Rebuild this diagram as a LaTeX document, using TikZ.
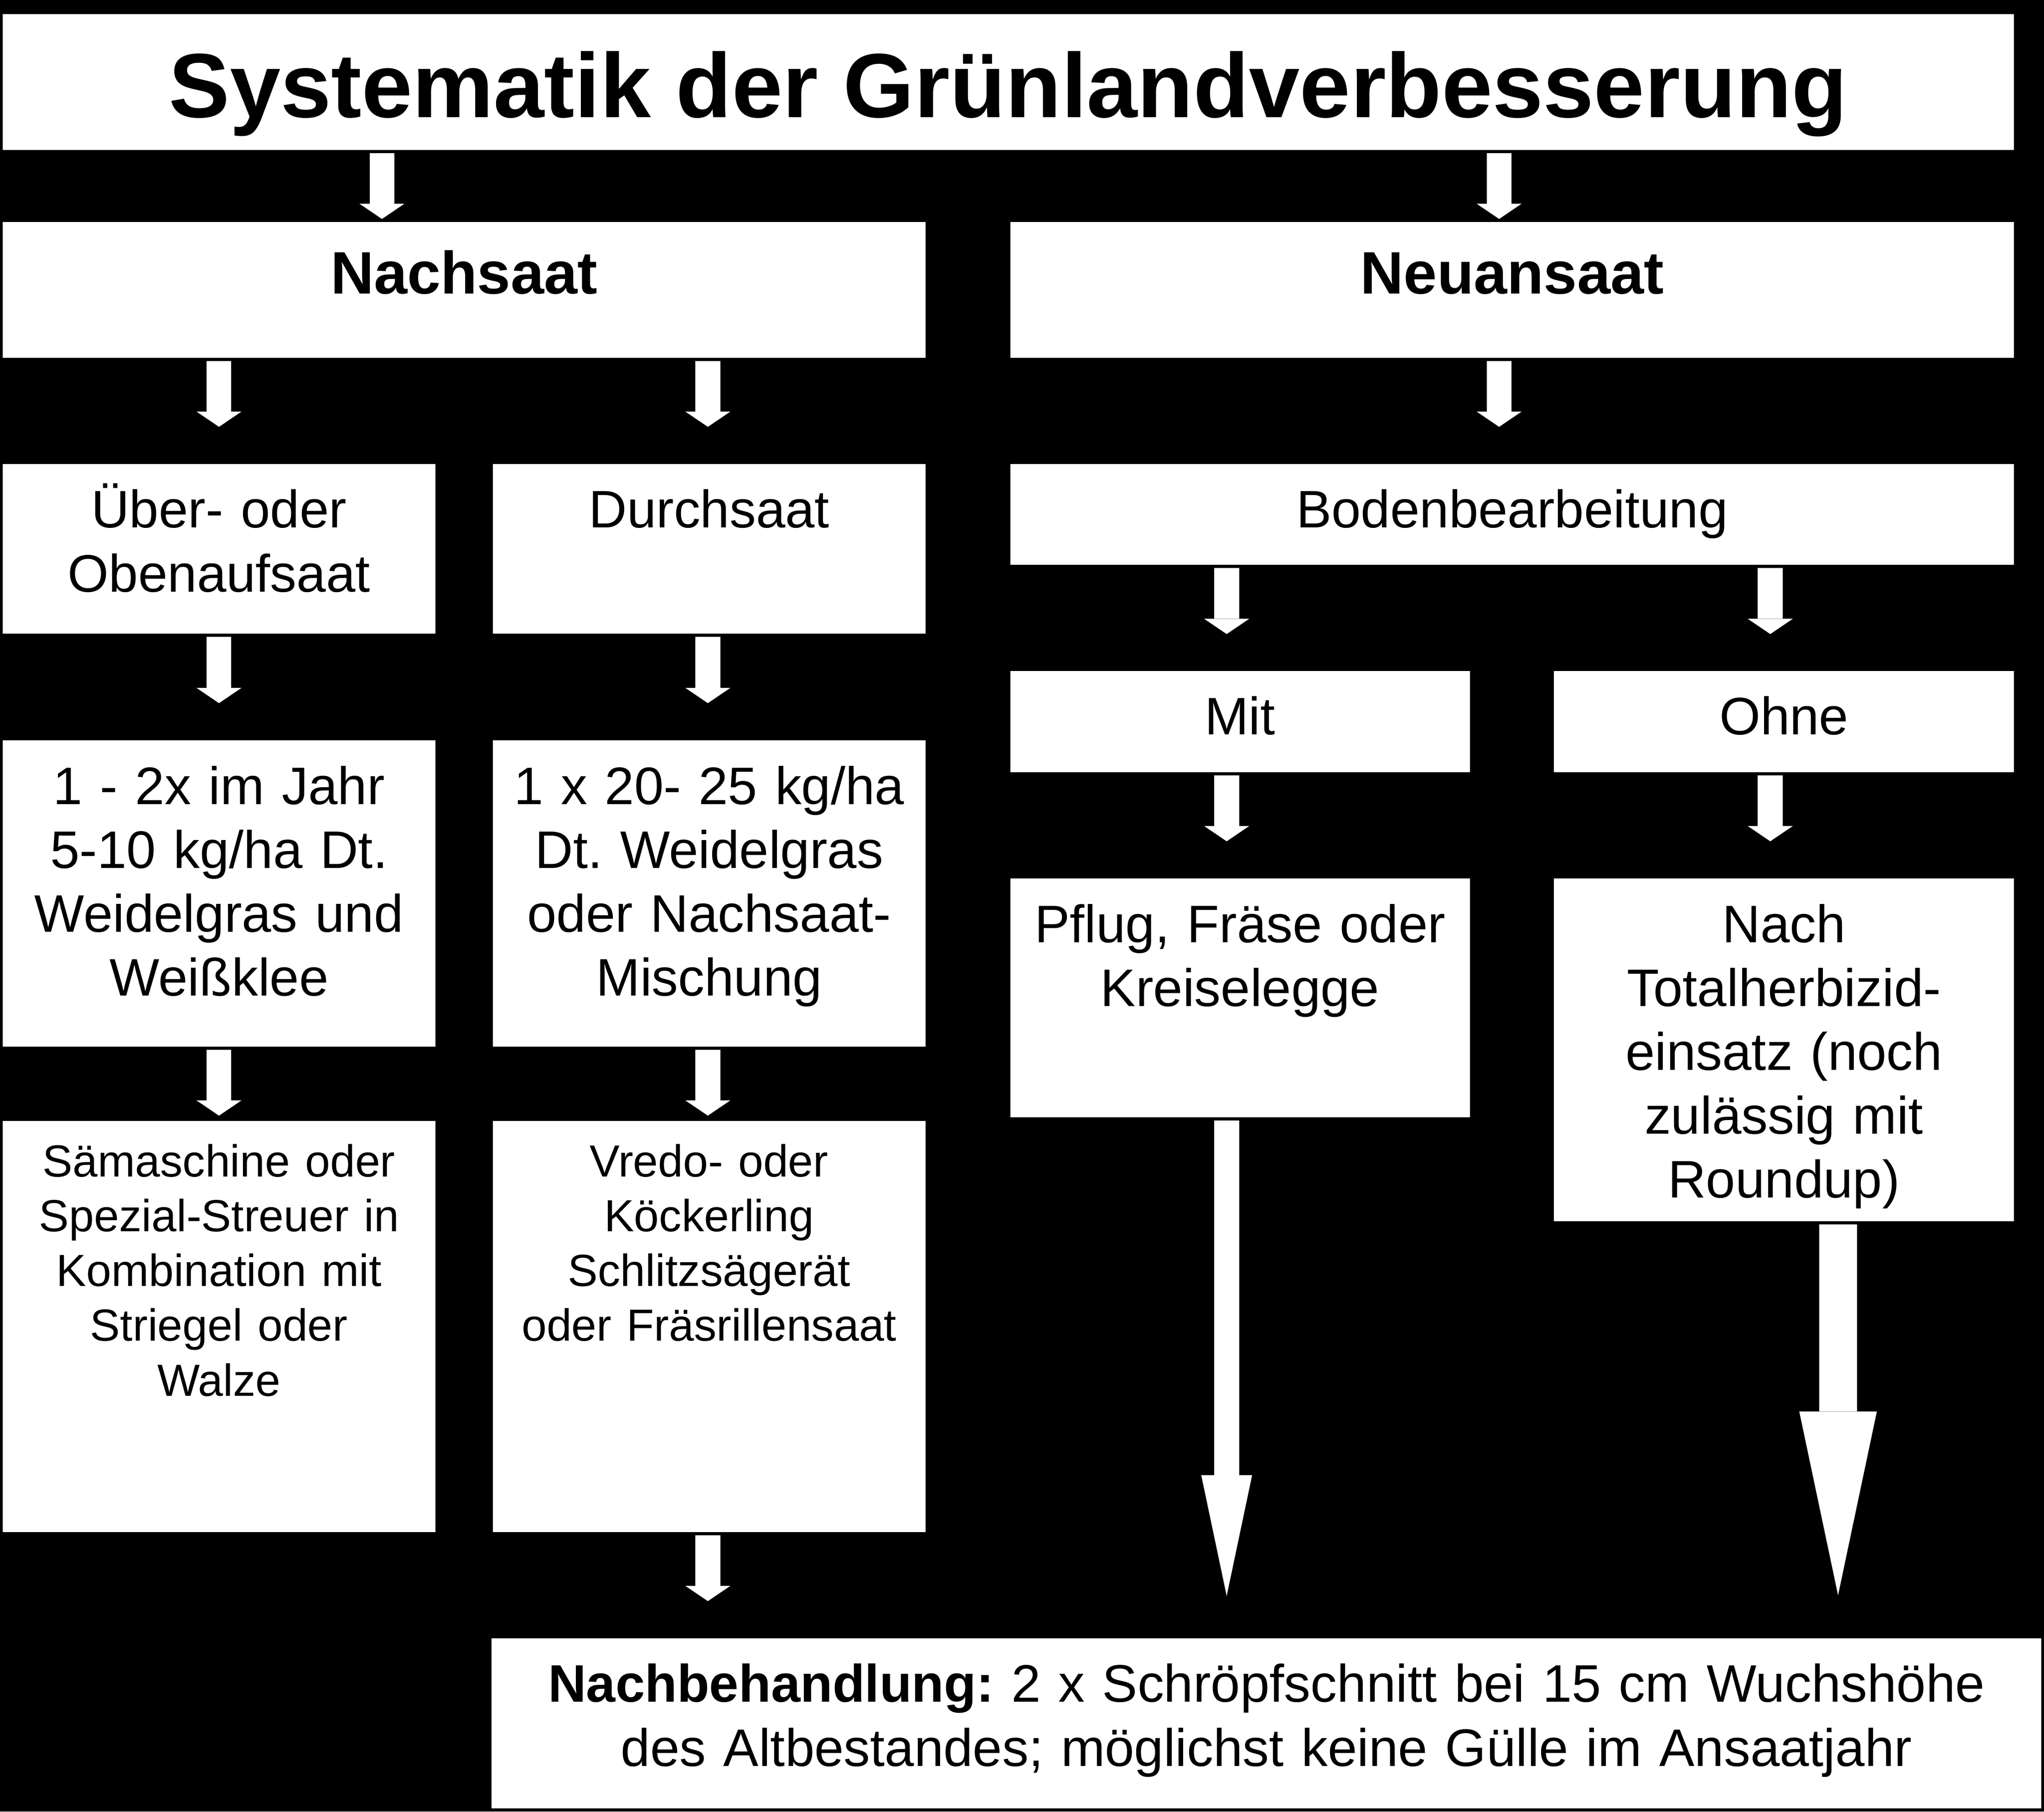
\documentclass[tikz,border=0pt]{standalone}
\usepackage{fontspec}
\setmainfont{Liberation Sans}[Ligatures=NoCommon]
\usetikzlibrary{arrows.meta,calc}
\frenchspacing
\tikzset{
  bx/.style n args={2}{fill=white, draw=none, inner sep=0pt, outer sep=0pt,
    anchor=north west, minimum width=#1, minimum height=#2},
  txt/.style={anchor=base, inner sep=0pt, outer sep=0pt, align=center, text width=#1,
    font=\fontsize{20.25pt}{24.5pt}\selectfont\frenchspacing},
  smalltxt/.style={anchor=base, inner sep=0pt, outer sep=0pt, align=center, text width=#1,
    font=\fontsize{17.25pt}{21pt}\selectfont\frenchspacing},
  headtxt/.style={anchor=base, inner sep=0pt, outer sep=0pt, align=center,
    font=\fontsize{23pt}{27pt}\selectfont\bfseries},
  titletxt/.style={anchor=base, inner sep=0pt, outer sep=0pt, align=center,
    font=\fontsize{35pt}{40pt}\selectfont\bfseries},
  sarr/.style={white, line width=9.5pt,
    -{Triangle[width=17.25pt, length=5.85pt, line width=0pt]}},
  barrL/.style={white, line width=9.5pt,
    -{Triangle[width=19.5pt, length=46.3pt, line width=0pt]}},
  barrR/.style={white, line width=14.5pt,
    -{Triangle[width=29.75pt, length=70.5pt, line width=0pt]}},
}
\newcommand\conn[4]{\draw[sarr] ($(#1,0 |- #2.south)+(0,2.5)$) -- ($(#1,0 |- #3.north)+(0,-#4)$);}
\begin{document}
\frenchspacing
\begin{tikzpicture}[x=0.5pt, y=-0.5pt]
\useasboundingbox (0,0) rectangle (1568,1390);
\fill[black] (0,0) rectangle (1568,1390);

% boxes
\node[bx={771.5pt}{52pt}] (title) at (2,11) {};
\node[bx={354pt}{52pt}] (nachsaat) at (2,170.5) {};
\node[bx={385pt}{52pt}] (neuansaat) at (775,170.5) {};
\node[bx={166pt}{65pt}] (ueber) at (2,356) {};
\node[bx={166pt}{65pt}] (durch) at (378,356) {};
\node[bx={385pt}{38.7pt}] (boden) at (775,356) {};
\node[bx={176.25pt}{38.75pt}] (mit) at (775,515) {};
\node[bx={176.5pt}{38.75pt}] (ohne) at (1192,515) {};
\node[bx={166pt}{117.5pt}] (jahr) at (2,568) {};
\node[bx={166pt}{117.5pt}] (kg) at (378,568) {};
\node[bx={176.25pt}{91.65pt}] (pflug) at (775,674) {};
\node[bx={176.5pt}{131.5pt}] (nach) at (1192,674) {};
\node[bx={166pt}{157.75pt}] (saem) at (2,860) {};
\node[bx={166pt}{157.75pt}] (vredo) at (378,860) {};
\node[bx={594.5pt}{65.25pt}] (nachbeh) at (377,1257) {};

% texts
\node[titletxt] (ttitle) at ($(title.north)+(0,79)$) {Systematik der Grünlandverbesserung};
\node[headtxt] (tnachsaat) at ($(nachsaat.north)+(0,55)$) {Nachsaat};
\node[headtxt] (tneuansaat) at ($(neuansaat.north)+(0,55)$) {Neuansaat};
\node[txt=166pt] (tueber) at ($(ueber.north)+(0,49)$) {Über- oder\\Obenaufsaat};
\node[txt=166pt] (tdurch) at ($(durch.north)+(0,49)$) {Durchsaat};
\node[txt=385pt] (tboden) at ($(boden.north)+(0,49)$) {Bodenbearbeitung};
\node[txt=176pt] (tmit) at ($(mit.north)+(0,48.6)$) {Mit};
\node[txt=176pt] (tohne) at ($(ohne.north)+(0,48.6)$) {Ohne};
\node[txt=166pt] (tjahr) at ($(jahr.north)+(0,49)$) {1 - 2x im Jahr\\5-10 kg/ha Dt.\\Weidelgras und\\Weißklee};
\node[txt=166pt] (tkg) at ($(kg.north)+(0,49)$) {1 x 20- 25 kg/ha\\Dt. Weidelgras\\oder Nachsaat-\\Mischung};
\node[txt=176pt] (tpflug) at ($(pflug.north)+(0,49)$) {Pflug, Fräse oder\\Kreiselegge};
\node[txt=176pt] (tnach) at ($(nach.north)+(0,49)$) {Nach\\Totalherbizid-\\einsatz (noch\\zulässig mit\\Roundup)};
\node[smalltxt=166pt] (tsaem) at ($(saem.north)+(0,43)$) {Sämaschine oder\\Spezial-Streuer in\\Kombination mit\\Striegel oder\\Walze};
\node[smalltxt=166pt] (tvredo) at ($(vredo.north)+(0,43)$) {Vredo- oder\\Köckerling\\Schlitzsägerät\\oder Fräsrillensaat};
\node[txt=594pt] (tnachbeh) at ($(nachbeh.north)+(0,49)$) {\textbf{Nachbehandlung:} 2 x Schröpfschnitt bei 15 cm Wuchshöhe\\des Altbestandes; möglichst keine Gülle im Ansaatjahr};

% connectors
\conn{293}{title}{nachsaat}{2.5}
\conn{1150}{title}{neuansaat}{2.5}
\conn{168}{nachsaat}{ueber}{28.5}
\conn{543}{nachsaat}{durch}{28.5}
\conn{1150}{neuansaat}{boden}{28.5}
\conn{168}{ueber}{jahr}{28.5}
\conn{543}{durch}{kg}{28.5}
\conn{941}{boden}{mit}{28.5}
\conn{1358}{boden}{ohne}{28.5}
\conn{941}{mit}{pflug}{28.5}
\conn{1358}{ohne}{nach}{28.5}
\conn{168}{jahr}{saem}{4}
\conn{543}{kg}{vredo}{4}
\conn{543}{vredo}{nachbeh}{28.5}
\draw[barrL] ($(941,0 |- pflug.south)+(0,2.5)$) -- ($(941,0 |- nachbeh.north)+(0,-32.5)$);
\draw[barrR] ($(1410,0 |- nach.south)+(0,2.5)$) -- ($(1410,0 |- nachbeh.north)+(0,-33)$);
\end{tikzpicture}
\end{document}
